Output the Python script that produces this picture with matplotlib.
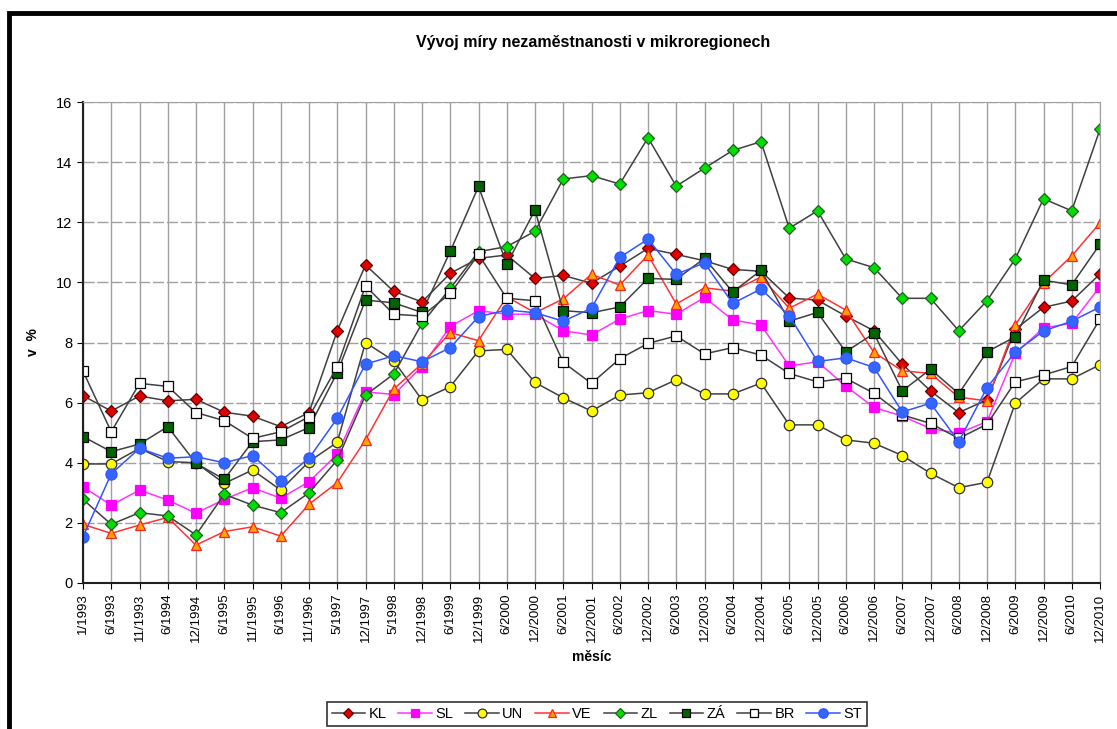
import matplotlib
matplotlib.use("Agg")
import matplotlib.pyplot as plt
from matplotlib.patches import Rectangle

plt.rcParams['font.family'] = ['Liberation Sans', 'DejaVu Sans']

mesice = ["1/1993", "6/1993", "11/1993", "6/1994", "12/1994", "6/1995", "11/1995",
          "6/1996", "11/1996", "5/1997", "12/1997", "5/1998", "12/1998", "6/1999",
          "12/1999", "6/2000", "12/2000", "6/2001", "12/2001", "6/2002", "12/2002",
          "6/2003", "12/2003", "6/2004", "12/2004", "6/2005", "12/2005", "6/2006",
          "12/2006", "6/2007", "12/2007", "6/2008", "12/2008", "6/2009", "12/2009",
          "6/2010", "12/2010"]

KL = [6.23, 5.72, 6.22, 6.06, 6.11, 5.68, 5.55, 5.2, 5.67, 8.39, 10.58, 9.7, 9.35,
      10.3, 10.8, 10.91, 10.13, 10.23, 9.97, 10.54, 11.13, 10.93, 10.72, 10.43, 10.37,
      9.48, 9.41, 8.88, 8.39, 7.28, 6.39, 5.67, 6.09, 8.44, 9.17, 9.38, 10.28]
SL = [3.2, 2.59, 3.09, 2.76, 2.32, 2.78, 3.17, 2.82, 3.37, 4.28, 6.36, 6.27, 7.2,
      8.53, 9.06, 8.94, 8.94, 8.39, 8.25, 8.78, 9.06, 8.94, 9.5, 8.75, 8.58,
      7.22, 7.36, 6.55, 5.84, 5.55, 5.14, 4.98, 5.37, 7.64, 8.48, 8.64, 9.86]
UN = [3.96, 3.96, 4.48, 4.04, 4.0, 3.31, 3.76, 3.09, 4.04, 4.68, 8.0, 7.39, 6.09,
      6.53, 7.72, 7.77, 6.67, 6.16, 5.72, 6.25, 6.33, 6.76, 6.29, 6.29, 6.65,
      5.26, 5.26, 4.76, 4.65, 4.24, 3.65, 3.17, 3.35, 5.98, 6.79, 6.79, 7.26]
VE = [1.95, 1.65, 1.93, 2.18, 1.26, 1.71, 1.87, 1.56, 2.62, 3.34, 4.76, 6.45, 7.3,
      8.33, 8.06, 9.52, 8.99, 9.45, 10.27, 9.91, 10.91, 9.28, 9.82, 9.71, 10.18,
      9.14, 9.61, 9.08, 7.67, 7.06, 6.97, 6.18, 6.06, 8.58, 9.99, 10.88, 11.98]
ZL = [2.78, 1.95, 2.34, 2.23, 1.6, 2.95, 2.59, 2.34, 3.0, 4.09, 6.25, 6.95, 8.64,
      9.8, 11.02, 11.19, 11.7, 13.44, 13.55, 13.27, 14.81, 13.2, 13.8, 14.39, 14.68,
      11.8, 12.38, 10.78, 10.49, 9.47, 9.47, 8.39, 9.39, 10.78, 12.78, 12.38, 15.09]
ZA = [4.87, 4.37, 4.62, 5.2, 3.98, 3.45, 4.7, 4.76, 5.17, 7.0, 9.41, 9.32, 9.0,
      11.03, 13.19, 10.6, 12.41, 9.06, 8.99, 9.18, 10.13, 10.1, 10.8, 9.68, 10.4,
      8.71, 9.0, 7.69, 8.3, 6.39, 7.11, 6.3, 7.69, 8.19, 10.07, 9.92, 11.27]
BR = [7.05, 5.03, 6.64, 6.54, 5.67, 5.4, 4.81, 5.03, 5.53, 7.2, 9.88, 8.94, 8.88,
      9.63, 10.93, 9.47, 9.39, 7.34, 6.64, 7.46, 7.97, 8.22, 7.62, 7.83, 7.58,
      6.97, 6.69, 6.81, 6.31, 5.59, 5.31, 4.81, 5.28, 6.69, 6.92, 7.2, 8.78]
ST = [1.54, 3.63, 4.48, 4.15, 4.2, 4.0, 4.24, 3.4, 4.15, 5.48, 7.28, 7.56, 7.36,
      7.83, 8.86, 9.08, 8.99, 8.71, 9.14, 10.83, 11.44, 10.27, 10.65, 9.3, 9.78,
      8.89, 7.37, 7.49, 7.17, 5.69, 5.98, 4.7, 6.5, 7.68, 8.38, 8.71, 9.18]

# (data, label, line colour, marker, face, edge, size)
serie = [
    (KL, "KL", "#404040", "D", "#e00000", "#600000", 6),
    (SL, "SL", "#ff33ff", "s", "#ff00ff", "#ff00ff", 7.5),
    (UN, "UN", "#404040", "o", "#ffff00", "#303030", 7.5),
    (VE, "VE", "#ff3333", "^", "#ffa500", "#ff2020", 7.5),
    (ZL, "ZL", "#404040", "D", "#00dd00", "#206020", 6),
    (ZA, "ZÁ", "#404040", "s", "#006400", "#000000", 7.5),
    (BR, "BR", "#404040", "s", "#ffffff", "#000000", 7.5),
    (ST, "ST", "#3355ff", "o", "#3366ff", "#3355ff", 8),
]

fig = plt.figure(figsize=(11.17, 7.29), dpi=100)
ax = fig.add_axes([83/1117, 1 - 583/729, (1100 - 83)/1117, (583 - 102)/729])

x = list(range(len(mesice)))
for data, lab, lc, m, fc, ec, ms in serie:
    ax.plot(x, data, color=lc, lw=1.1, marker=m, markersize=ms,
            markerfacecolor=fc, markeredgecolor=ec, markeredgewidth=0.9, label=lab)

ax.set_xlim(0, len(mesice) - 1)
ax.set_ylim(0, 16)
ax.set_yticks(range(0, 17, 2))
ax.set_xticks(x)
ax.set_xticklabels(mesice, rotation=90, fontsize=9.5)
ax.tick_params(axis='y', labelsize=10.5, length=4, direction='out')
ax.tick_params(axis='x', length=4, direction='out')

ax.grid(axis='x', color='#a0a0a0', lw=1)
ax.grid(axis='y', color='#a0a0a0', lw=1, ls=(0, (8, 2)))
ax.set_axisbelow(True)
for s in ['top', 'right']:
    ax.spines[s].set_color('#a0a0a0')
for s in ['left', 'bottom']:
    ax.spines[s].set_color('#202020')
    ax.spines[s].set_linewidth(1.5)

ax.set_ylabel("v  %", fontsize=10, fontweight='bold', labelpad=12)
ax.set_xlabel("měsíc", fontsize=10, fontweight='bold', labelpad=6)
fig.text(593/1117, 1 - 43/729, "Vývoj míry nezaměstnanosti v mikroregionech",
         ha='center', va='center', fontsize=11.5, fontweight='bold')

leg = fig.legend(loc='center', bbox_to_anchor=(597/1117, 1 - 714/729), ncol=8,
                 fontsize=10.5, frameon=True, fancybox=False, edgecolor='black',
                 handlelength=2.3, handletextpad=0.25, columnspacing=0.8,
                 borderpad=0.35, markerscale=0.85)
leg.get_frame().set_linewidth(1.2)

# ramecek grafu
fig.patches.append(Rectangle((9/1117, -0.05), 1.2, 1 - 13/729 + 0.05,
                             transform=fig.transFigure, fill=False,
                             edgecolor='black', lw=3.5))

fig.savefig("out.png", dpi=100)
